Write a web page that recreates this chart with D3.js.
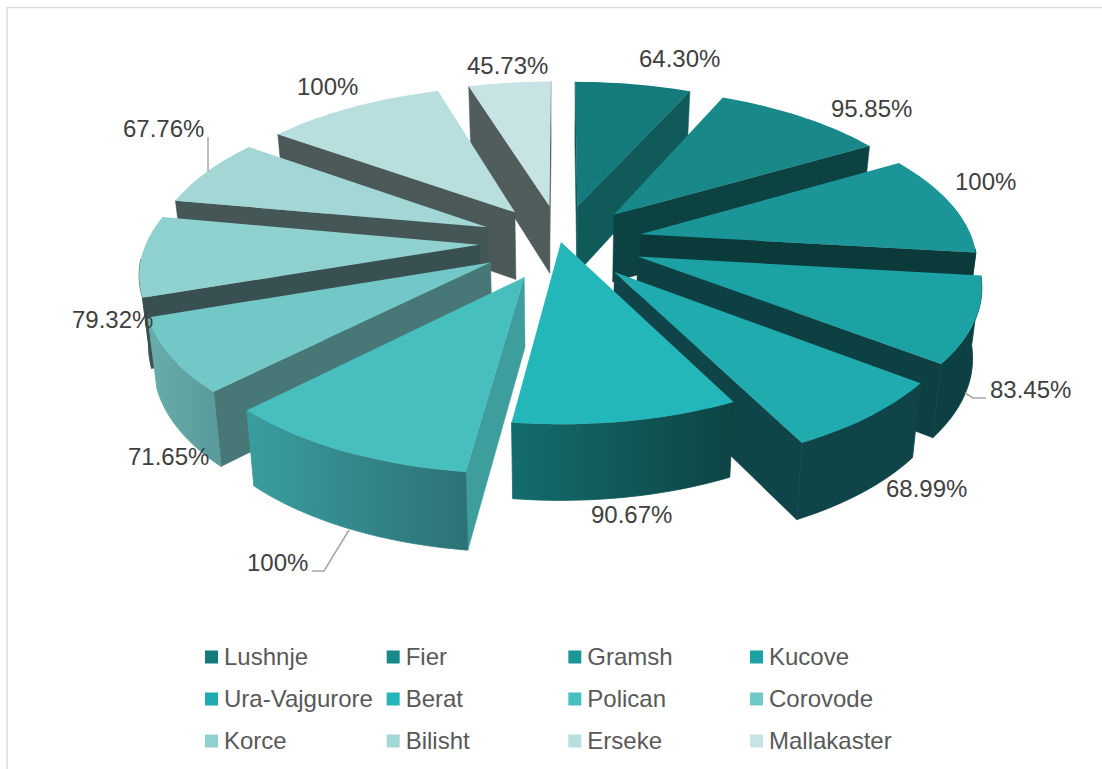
<!DOCTYPE html>
<html>
<head>
<meta charset="utf-8">
<script src="https://cdn.jsdelivr.net/npm/d3@7"></script>
<style>
html, body { margin: 0; padding: 0; background: #ffffff; }
svg { display: block; font-family: "Liberation Sans", Arial, sans-serif; }
</style>
</head>
<body>
<div id="chart"></div>
<script>
const cities = ['Lushnje', 'Fier', 'Gramsh', 'Kucove', 'Ura-Vajgurore', 'Berat', 'Polican', 'Corovode', 'Korce', 'Bilisht', 'Erseke', 'Mallakaster'];
const values = [64.30, 95.85, 100, 83.45, 68.99, 90.67, 100, 71.65, 79.32, 67.76, 100, 45.73];
const valueLabels = ['64.30%', '95.85%', '100%', '83.45%', '68.99%', '90.67%', '100%', '71.65%', '79.32%', '67.76%', '100%', '45.73%'];
// only Berat is left in the middle, the rest are pulled out
const explosion = [1, 1, 1, 1, 1, 0, 1, 1, 1, 1, 1, 1];

const topColors = ['#147a7b', '#188889', '#1b9597', '#1ca2a4', '#20acae', '#24b7b9', '#47bfbf', '#72c8c6', '#8fd1cf', '#a2d7d6', '#b8dfdd', '#c8e3e3'];
const wallColors = ['#105a5a', '#0d4242', '#0b3a3a', '#0d4043', '#0f4548', '#0f4d4e', '#3e9e9d', '#477877', '#395052', '#445655', '#4b5958', '#505d5c'];
const rimLeft = ['#105a5a', '#0d4242', '#0b3a3a', '#0d4043', '#0f4548', '#136c6c', '#3a9e9e', '#68adac', '#395052', '#445655', '#4b5958', '#505d5c'];
const rimRight = ['#105a5a', '#0d4242', '#0b3a3a', '#0d4043', '#0f4548', '#0e4444', '#2c7276', '#5a9c9c', '#395052', '#445655', '#4b5958', '#505d5c'];

const labelX = [639, 831, 955, 990, 886, 591, 247, 128, 72, 123, 297, 467];
const labelY = [67, 117, 190, 398, 497, 523, 571, 465, 328, 137, 95, 74];
const leaders = [
    [[965, 393], [973, 398], [986, 398]],
    [[349, 530], [324, 571], [312, 571]],
    [[208, 137], [208, 172]]
];

const svgWidth = 1102;
const svgHeight = 769;
const cx = 561;
const cy = 242;
const explodeBy = 0.245;
const perspective = 0.155;

const svg = d3.select('#chart').append('svg')
    .attr('width', svgWidth)
    .attr('height', svgHeight);
const defs = svg.append('defs');

svg.append('rect')
    .attr('x', 7)
    .attr('y', 7.5)
    .attr('width', svgWidth)
    .attr('height', svgHeight)
    .attr('fill', '#ffffff')
    .attr('stroke', '#dcdcdc')
    .attr('stroke-width', 1.5);

const xScale = d3.scaleLinear().domain([-1, 1]).range([cx - 333, cx + 333]);
const yScale = d3.scaleLinear().domain([-1, 1]).range([cy - 154, cy + 154]);

// world x,y on the unit disc (y comes towards the viewer), z=1 is the bottom face
function project(x, y, z) {
    const s = 1 / (1 - perspective * y);
    const sx = cx + (xScale(x) - cx) * s;
    const sy = cy + (yScale(y) - cy) * s;
    if (!z) return [sx, sy];
    return [cx + (sx - cx) * 0.978, cy + (sy - cy) * 1.042 + 68.5];
}

const arcs = d3.pie().sort(null).value(d => d)(values);
const lineGen = d3.line();

const slices = arcs.map((a, i) => {
    const mid = (a.startAngle + a.endAngle) / 2;
    const e = explosion[i] * explodeBy;
    return {i, mid, a0: a.startAngle, a1: a.endAngle, ox: e * Math.sin(mid), oy: -e * Math.cos(mid)};
});

function rimPoint(d, angle, z) {
    return project(d.ox + Math.sin(angle), d.oy - Math.cos(angle), z);
}

function arcPoints(d, a0, a1, z) {
    const n = Math.max(2, Math.ceil((a1 - a0) / 0.03));
    return d3.range(n + 1).map(k => rimPoint(d, a0 + (a1 - a0) * k / n, z));
}

const gPie = svg.append('g');

// back slices first
slices.slice().sort((a, b) => Math.cos(b.mid) - Math.cos(a.mid)).forEach(d => {
    const g = gPie.append('g').attr('class', 'slice');
    const apexTop = project(d.ox, d.oy, 0);
    const apexBottom = project(d.ox, d.oy, 1);
    const midTop = rimPoint(d, d.mid, 0);

    [d.a0, d.a1].forEach(angle => {
        const corner = rimPoint(d, angle, 0);
        const cross = (corner[0] - apexTop[0]) * (midTop[1] - apexTop[1]) - (corner[1] - apexTop[1]) * (midTop[0] - apexTop[0]);
        const above = corner[0] > apexTop[0] ? cross < 0 : cross > 0;
        if (!above) return;
        g.append('path')
            .attr('d', lineGen([apexTop, corner, rimPoint(d, angle, 1), apexBottom]) + 'Z')
            .attr('fill', wallColors[d.i])
            .attr('stroke', wallColors[d.i])
            .attr('stroke-width', 0.5);
    });

    // outer wall, only the part turned to the viewer
    const from = Math.max(d.a0, Math.PI * 0.53);
    const to = Math.min(d.a1, Math.PI * 1.47);
    if (to > from) {
        const topEdge = arcPoints(d, from, to, 0);
        const bottomEdge = arcPoints(d, from, to, 1).reverse();
        const gradId = 'rim' + d.i;
        const grad = defs.append('linearGradient')
            .attr('id', gradId)
            .attr('gradientUnits', 'userSpaceOnUse')
            .attr('x1', d3.min(topEdge, p => p[0]))
            .attr('x2', d3.max(topEdge, p => p[0]))
            .attr('y1', 0)
            .attr('y2', 0);
        grad.append('stop').attr('offset', 0).attr('stop-color', rimLeft[d.i]);
        grad.append('stop').attr('offset', 1).attr('stop-color', rimRight[d.i]);
        g.append('path')
            .attr('d', lineGen(topEdge.concat(bottomEdge)) + 'Z')
            .attr('fill', `url(#${gradId})`)
            .attr('stroke', `url(#${gradId})`)
            .attr('stroke-width', 0.8);
    }

    g.append('path')
        .attr('d', lineGen([apexTop].concat(arcPoints(d, d.a0, d.a1, 0))) + 'Z')
        .attr('fill', topColors[d.i]);
});

svg.append('g').selectAll('path')
    .data(leaders)
    .enter()
    .append('path')
    .attr('d', d => lineGen(d))
    .attr('fill', 'none')
    .attr('stroke', '#a6a6a6')
    .attr('stroke-width', 1.5);

svg.append('g').selectAll('text')
    .data(valueLabels)
    .enter()
    .append('text')
    .attr('x', (d, i) => labelX[i])
    .attr('y', (d, i) => labelY[i])
    .attr('fill', '#404040')
    .style('font-size', '24px')
    .text(d => d);

const legendX = d3.scaleLinear().domain([0, 3]).range([205, 750]);
const legendY = d3.scaleLinear().domain([0, 2]).range([657, 741]);

const legend = svg.append('g').selectAll('g')
    .data(cities)
    .enter()
    .append('g')
    .attr('transform', (d, i) => `translate(${legendX(i % 4)},${legendY(Math.floor(i / 4))})`);

legend.append('rect')
    .attr('y', -6.5)
    .attr('width', 13)
    .attr('height', 13)
    .attr('fill', (d, i) => topColors[i]);

legend.append('text')
    .attr('x', 19)
    .attr('y', 8)
    .attr('fill', '#595959')
    .style('font-size', '24px')
    .text(d => d);
</script>
</body>
</html>
